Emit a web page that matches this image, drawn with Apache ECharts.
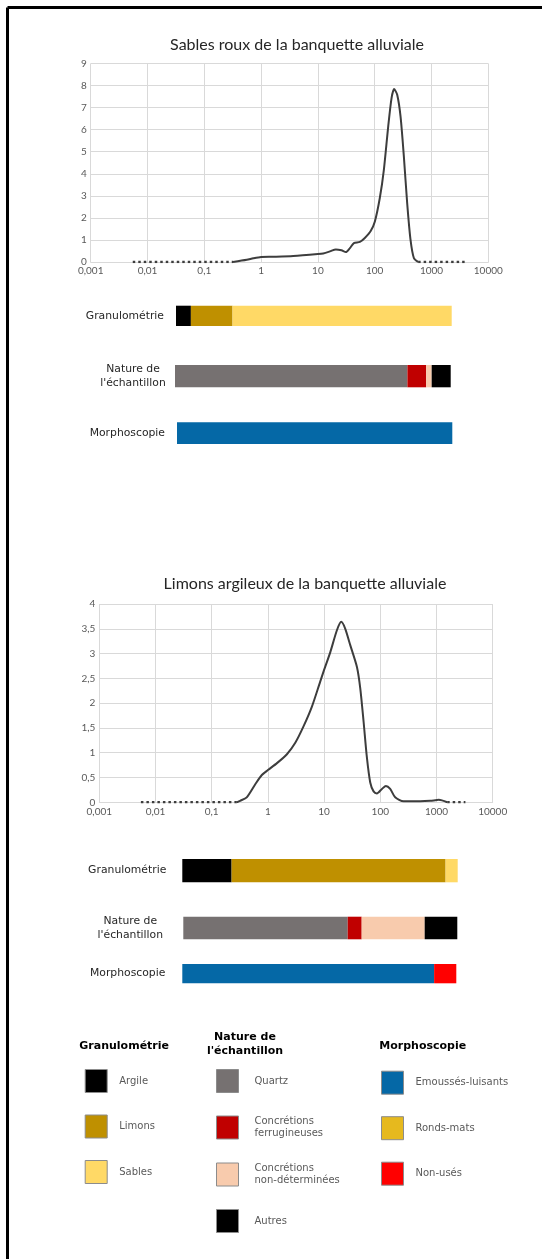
<!DOCTYPE html>
<html>
<head>
<meta charset="utf-8">
<script src="https://cdn.jsdelivr.net/npm/echarts@6/dist/echarts.min.js"></script>
<style>
  html, body { margin: 0; padding: 0; background: #fff; }
  #main { width: 542px; height: 1259px; }
</style>
</head>
<body>
<div id="main"></div>
<script>
// courbes granulométriques : taille (µm) / fréquence (%)
const sablesTitle = 'Sables roux de la banquette alluviale';
const sablesSize = [0.32, 0.56, 0.73, 1, 1.64, 3.68, 10, 12.4, 16.3, 20.7, 26, 31.1, 36.6, 43, 54.8, 67, 84.5, 100.7, 123, 145, 173, 198, 220, 249, 285, 326, 373, 427, 489, 582];
const sablesFreq = [0, 0.1, 0.17, 0.23, 0.24, 0.27, 0.36, 0.39, 0.48, 0.57, 0.53, 0.45, 0.63, 0.86, 0.91, 1.09, 1.39, 1.84, 2.9, 4.18, 6.15, 7.43, 7.84, 7.58, 6.6, 4.79, 2.67, 1.01, 0.18, 0];
const sablesZeroLow = [0.0055, 0.32];
const sablesZeroHigh = [582, 3860];

const limonsTitle = 'Limons argileux de la banquette alluviale';
const limonsSize = [0.28, 0.32, 0.42, 0.6, 0.78, 1, 1.45, 2.18, 3.07, 4.3, 6.07, 8.5, 10, 12.9, 16.9, 20.2, 23.8, 29.2, 38.4, 44, 50.4, 57.8, 66.2, 75.9, 87, 107, 126, 150, 184, 259, 516, 777, 1100, 1550];
const limonsFreq = [0, 0.03, 0.1, 0.37, 0.55, 0.65, 0.79, 0.97, 1.2, 1.53, 1.93, 2.43, 2.67, 3.03, 3.47, 3.64, 3.5, 3.17, 2.73, 2.3, 1.63, 0.9, 0.4, 0.22, 0.18, 0.27, 0.33, 0.27, 0.1, 0.02, 0.02, 0.03, 0.05, 0];
const limonsZeroLow = [0.0055, 0.28];
const limonsZeroHigh = [1550, 3270];

const xTickLabels = ['0,001', '0,01', '0,1', '1', '10', '100', '1000', '10000'];

// barres de composition (%)
const rowLabels = ['Granulométrie', "Nature de\nl'échantillon", 'Morphoscopie'];
const granuloClasses = ['Argile', 'Limons', 'Sables'];
const natureClasses = ['Quartz', 'Concrétions ferrugineuses', 'Concrétions non-déterminées', 'Autres'];
const morphoClasses = ['Emoussés-luisants', 'Ronds-mats', 'Non-usés'];

const sablesGranulo = [5.4, 15.1, 79.5];
const sablesNature = [84.3, 6.8, 2.0, 6.9];
const sablesMorpho = [100, 0, 0];
const limonsGranulo = [17.9, 77.7, 4.4];
const limonsNature = [60.0, 5.1, 23.0, 11.9];
const limonsMorpho = [91.9, 0, 8.1];

const colors = {
  'Argile': '#000000',
  'Limons': '#bf9000',
  'Sables': '#ffd966',
  'Quartz': '#767171',
  'Concrétions ferrugineuses': '#c00000',
  'Concrétions non-déterminées': '#f8cbad',
  'Autres': '#000000',
  'Emoussés-luisants': '#0568a6',
  'Ronds-mats': '#e6b91e',
  'Non-usés': '#ff0000'
};

var chart = echarts.init(document.getElementById('main'));

var AXIS_GREY = '#595959';
var GRID_GREY = '#d9d9d9';
var LINE_COL = '#3d3d3d';

var grids = [
  { left: 90.7, width: 397.6, top: 63.5, height: 198.5 },
  { left: 99.3, width: 393.4, top: 604, height: 198.3 }
];
var xAxes = [];
var yAxes = [];
var series = [];

function lineAxes(gi, yMax, yInterval) {
  xAxes.push({
    type: 'log', logBase: 10, gridIndex: gi, min: 0.001, max: 10000, interval: 1,
    axisLine: { show: true, lineStyle: { color: GRID_GREY } },
    axisTick: { show: false },
    splitLine: { show: true, lineStyle: { color: GRID_GREY } },
    axisLabel: {
      color: AXIS_GREY, fontSize: 10, fontFamily: 'Lato', margin: 4,
      formatter: function (v) { return xTickLabels[Math.round(Math.log10(v)) + 3]; }
    }
  });
  yAxes.push({
    type: 'value', gridIndex: gi, min: 0, max: yMax, interval: yInterval,
    axisLine: { show: false },
    axisTick: { show: false },
    splitLine: { show: true, lineStyle: { color: GRID_GREY } },
    axisLabel: {
      color: AXIS_GREY, fontSize: 10, fontFamily: 'Lato', margin: 4,
      formatter: function (v) { return String(v).replace('.', ','); }
    }
  });
}

function curve(gi, sizes, freqs, zeroLow, zeroHigh) {
  series.push({
    type: 'line', xAxisIndex: gi, yAxisIndex: gi, silent: true,
    data: sizes.map(function (s, i) { return [s, freqs[i]]; }),
    smooth: 0.25, showSymbol: false,
    lineStyle: { color: LINE_COL, width: 2 }
  });
  [zeroLow, zeroHigh].forEach(function (r) {
    series.push({
      type: 'line', xAxisIndex: gi, yAxisIndex: gi, silent: true,
      data: r.map(function (s) { return [s, 0]; }),
      showSymbol: false,
      lineStyle: { color: LINE_COL, width: 2.5, type: [2.5, 3] }
    });
  });
}

lineAxes(0, 9, 1);
lineAxes(1, 4, 0.5);
curve(0, sablesSize, sablesFreq, sablesZeroLow, sablesZeroHigh);
curve(1, limonsSize, limonsFreq, limonsZeroLow, limonsZeroHigh);

// une grille par barre
var barRows = [
  { box: { left: 176, width: 275.7, top: 305.7, height: 20.3 }, margin: 12, align: 'right', classes: granuloClasses, values: sablesGranulo },
  { box: { left: 175, width: 275.7, top: 365, height: 22.3 }, margin: 42, align: 'center', classes: natureClasses, values: sablesNature },
  { box: { left: 177, width: 275.3, top: 422.3, height: 21.7 }, margin: 12, align: 'right', classes: morphoClasses, values: sablesMorpho },
  { box: { left: 182.3, width: 275.4, top: 859, height: 23.3 }, margin: 16, align: 'right', classes: granuloClasses, values: limonsGranulo },
  { box: { left: 183.3, width: 274, top: 916.7, height: 22.6 }, margin: 53, align: 'center', classes: natureClasses, values: limonsNature },
  { box: { left: 182.3, width: 274, top: 964, height: 19.3 }, margin: 17, align: 'right', classes: morphoClasses, values: limonsMorpho }
];

barRows.forEach(function (row, r) {
  var gi = grids.length;
  grids.push(row.box);
  xAxes.push({ type: 'value', gridIndex: gi, min: 0, max: 100, show: false });
  yAxes.push({
    type: 'category', gridIndex: gi, data: [rowLabels[r % 3]],
    axisLine: { show: false }, axisTick: { show: false },
    axisLabel: {
      margin: row.margin, align: row.align, fontSize: 10.8, lineHeight: 14,
      fontFamily: 'DejaVu Sans', color: '#262626'
    }
  });
  row.classes.forEach(function (name, k) {
    series.push({
      type: 'bar', name: name, stack: 'row' + r, xAxisIndex: gi, yAxisIndex: gi,
      data: [row.values[k]], barWidth: '100%', silent: true,
      itemStyle: { color: colors[name] }
    });
  });
});

function legendBlock(names, left, top, gap, pad) {
  return {
    data: names, orient: 'vertical', left: left, top: top,
    itemWidth: 22, itemHeight: 23, itemGap: gap, padding: 0,
    icon: 'rect', selectedMode: false,
    itemStyle: { borderColor: '#8c8c8c', borderWidth: 1 },
    formatter: function (n) { return n.replace('Concrétions ', 'Concrétions\n'); },
    textStyle: { color: AXIS_GREY, fontSize: 10, lineHeight: 12.5, fontFamily: 'DejaVu Sans', padding: [0, 0, 0, pad] }
  };
}

var titleFont = '16px Lato';
var headFont = 'bold 11px "DejaVu Sans"';

var option = {
  animation: false,
  backgroundColor: '#fff',
  grid: grids,
  xAxis: xAxes,
  yAxis: yAxes,
  series: series,
  legend: [
    legendBlock(granuloClasses, 84.7, 1069, 21.5, 7),
    legendBlock(natureClasses, 216, 1069, 22, 11),
    legendBlock(morphoClasses, 381, 1070.7, 21.5, 7)
  ],
  graphic: [
    { type: 'line', shape: { x1: 7.5, y1: 7.5, x2: 542, y2: 7.5 }, style: { stroke: '#000', lineWidth: 3 } },
    { type: 'line', shape: { x1: 7.5, y1: 7.5, x2: 7.5, y2: 1259 }, style: { stroke: '#000', lineWidth: 3 } },
    { type: 'text', x: 297, y: 45, style: { text: sablesTitle, font: titleFont, fill: '#262626', align: 'center', verticalAlign: 'middle' } },
    { type: 'text', x: 305, y: 584, style: { text: limonsTitle, font: titleFont, fill: '#262626', align: 'center', verticalAlign: 'middle' } },
    { type: 'text', x: 79.3, y: 1046, style: { text: 'Granulométrie', font: headFont, fill: '#000', verticalAlign: 'middle' } },
    { type: 'text', x: 245, y: 1044, style: { text: "Nature de\nl'échantillon", font: headFont, lineHeight: 13.7, fill: '#000', align: 'center', verticalAlign: 'middle' } },
    { type: 'text', x: 379.3, y: 1046, style: { text: 'Morphoscopie', font: headFont, fill: '#000', verticalAlign: 'middle' } }
  ]
};

chart.setOption(option);
</script>
</body>
</html>
